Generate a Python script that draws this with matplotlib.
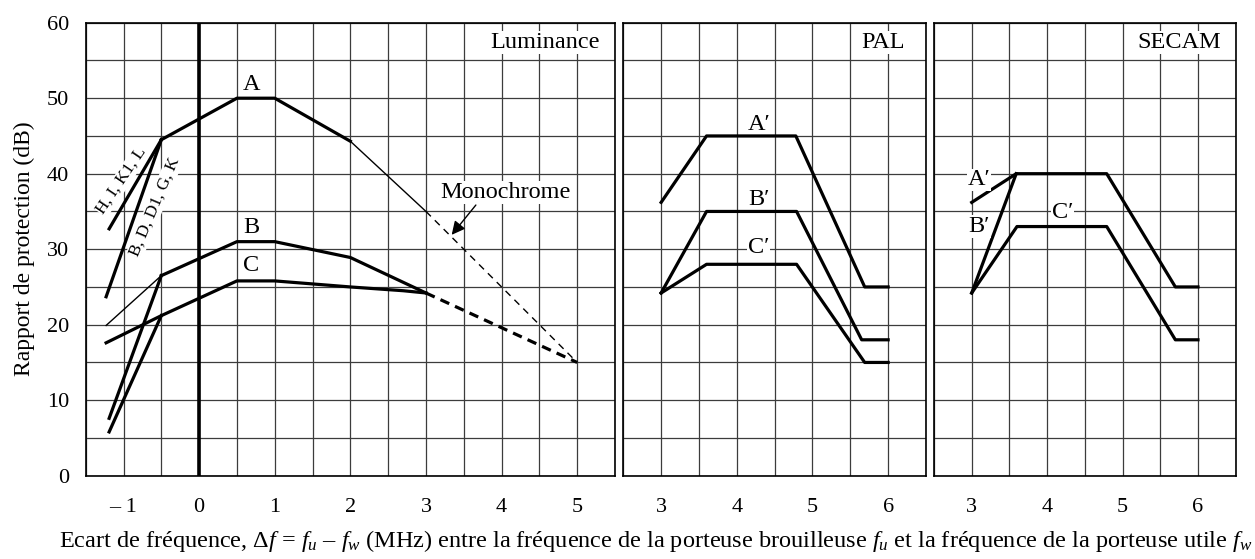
import numpy as np
import matplotlib
matplotlib.use("Agg")
from matplotlib import pyplot as plt

plt.rcParams['font.family'] = ['Liberation Serif', 'DejaVu Serif']
plt.rcParams['font.size'] = 16
plt.rcParams['mathtext.fontset'] = 'custom'
plt.rcParams['mathtext.rm'] = 'Liberation Serif'
plt.rcParams['mathtext.it'] = 'Liberation Serif:italic'

# ---- data (MHz, dB) ----
# luminance panel
a_x = [-0.5, 0.5, 1, 2]
a_y = [44.5, 50, 50, 44.3]
mono_x = [2, 3]
mono_y = [44.3, 35]
mono_dash_x = [3, 5]
mono_dash_y = [35, 15]
hikl_x = [-1.19, -0.5]
hikl_y = [32.7, 44.5]
bdg_x = [-1.23, -0.5]
bdg_y = [23.7, 44.5]
b_thin_x = [-1.23, -0.5]
b_thin_y = [19.9, 26.5]
b_x = [-0.5, 0.5, 1, 2, 3]
b_y = [26.5, 31, 31, 28.9, 24.2]
b_steep_x = [-1.19, -0.5]
b_steep_y = [7.6, 26.5]
c_x = [-1.23, -0.5, 0.5, 1, 2, 2.7, 3]
c_y = [17.6, 21.2, 25.8, 25.8, 25.0, 24.5, 24.2]
c_steep_x = [-1.19, -0.5]
c_steep_y = [5.8, 21.2]
bc_dash_x = [3, 5]
bc_dash_y = [24.2, 15]

# PAL panel
pal_a_x = [3, 3.6, 4.78, 5.69, 6]
pal_a_y = [36.2, 45, 45, 25, 25]
pal_b_x = [3, 3.6, 4.79, 5.65, 6]
pal_b_y = [24.2, 35, 35, 18, 18]
pal_c_x = [3, 3.6, 4.79, 5.69, 6]
pal_c_y = [24.2, 28, 28, 15, 15]

# SECAM panel
sec_a_x = [3, 3.59, 4.79, 5.7, 6]
sec_a_y = [36.2, 40, 40, 25, 25]
sec_b_x = [3, 3.59]
sec_b_y = [24.2, 40]
sec_c_x = [3, 3.6, 4.79, 5.7, 6]
sec_c_y = [24.2, 33, 33, 18, 18]

lum_ticks = [-1, 0, 1, 2, 3, 4, 5]
lum_ticklabels = ['\u2013 1', '0', '1', '2', '3', '4', '5']
col_ticks = [3, 4, 5, 6]
y_ticks = [0, 10, 20, 30, 40, 50, 60]

W, H = 1255, 559
fig = plt.figure(figsize=(W / 100, H / 100), dpi=100)

def px_axes(x0, x1, y0, y1):
    # pixel box -> figure fraction
    return fig.add_axes([x0 / W, (H - y1) / H, (x1 - x0) / W, (y1 - y0) / H])

ax1 = px_axes(85.7, 615, 22.7, 475.7)
ax2 = px_axes(623.3, 926, 22.7, 475.7)
ax3 = px_axes(934, 1235.7, 22.7, 475.7)

thick = 2.3
thin = 1.0
lab = 17.5
bbox = dict(facecolor='white', edgecolor='none', pad=0.5)

def setup(ax, xlim, ticks, labels, show_y):
    ax.set_xlim(*xlim)
    ax.set_ylim(0, 60)
    ax.set_xticks(ticks)
    ax.set_xticklabels(labels)
    ax.set_xticks(np.arange(xlim[0], xlim[1] + 0.01, 0.5), minor=True)
    ax.set_yticks(y_ticks)
    ax.set_yticks(np.arange(0, 61, 5), minor=True)
    if not show_y:
        ax.set_yticklabels([])
    ax.grid(True, which='both', color='#3c3c3c', lw=0.9)
    ax.set_axisbelow(True)
    ax.tick_params(which='both', length=0)
    ax.tick_params(axis='x', pad=16)
    ax.tick_params(axis='y', pad=12)
    for s in ax.spines.values():
        s.set_linewidth(1.2)

setup(ax1, (-1.5, 5.5), lum_ticks, lum_ticklabels, True)
setup(ax2, (2.5, 6.5), col_ticks, [str(t) for t in col_ticks], False)
setup(ax3, (2.5, 6.5), col_ticks, [str(t) for t in col_ticks], False)

# luminance
ax1.axvline(0, color='black', lw=2.6)
ax1.plot(a_x, a_y, color='black', lw=thick)
ax1.plot(mono_x, mono_y, color='black', lw=thin)
ax1.plot(mono_dash_x, mono_dash_y, color='black', lw=thin, ls=(0, (5, 4)))
ax1.plot(hikl_x, hikl_y, color='black', lw=thick)
ax1.plot(bdg_x, bdg_y, color='black', lw=thick)
ax1.plot(b_thin_x, b_thin_y, color='black', lw=thin)
ax1.plot(b_x, b_y, color='black', lw=thick)
ax1.plot(b_steep_x, b_steep_y, color='black', lw=thick)
ax1.plot(c_x, c_y, color='black', lw=thick)
ax1.plot(c_steep_x, c_steep_y, color='black', lw=thick)
ax1.plot(bc_dash_x, bc_dash_y, color='black', lw=thick, ls=(0, (3, 2)))

ax1.text(0.69, 51.8, 'A', ha='center', va='center', fontsize=lab)
ax1.text(0.69, 32.9, 'B', ha='center', va='center', fontsize=lab)
ax1.text(0.69, 27.9, 'C', ha='center', va='center', fontsize=lab, bbox=bbox)
ax1.text(5.3, 57.4, 'Luminance', ha='right', va='center', fontsize=lab, bbox=bbox)
ax1.text(-1.025, 39.1, 'H, I, K1, L', ha='center', va='center', fontsize=12.5,
         rotation=56, bbox=bbox)
ax1.text(-0.586, 35.6, 'B, D, D1, G, K', ha='center', va='center', fontsize=12.5,
         rotation=67, bbox=bbox)
ax1.text(4.045, 37.5, 'Monochrome', ha='center', va='center', fontsize=lab, bbox=bbox)
ax1.annotate('', xy=(3.34, 31.9), xytext=(3.66, 35.85),
             arrowprops=dict(arrowstyle='-|>', color='black', lw=1.0,
                             mutation_scale=20, shrinkA=0, shrinkB=0))

# PAL
for xs, ys in [(pal_a_x, pal_a_y), (pal_b_x, pal_b_y), (pal_c_x, pal_c_y)]:
    ax2.plot(xs, ys, color='black', lw=thick)
ax2.text(4.29, 46.5, 'A\u2032', ha='center', va='center', fontsize=lab)
ax2.text(4.29, 36.6, 'B\u2032', ha='center', va='center', fontsize=lab)
ax2.text(4.29, 30.2, 'C\u2032', ha='center', va='center', fontsize=lab, bbox=bbox)
ax2.text(6.22, 57.4, 'PAL', ha='right', va='center', fontsize=lab, bbox=bbox)

# SECAM
for xs, ys in [(sec_a_x, sec_a_y), (sec_b_x, sec_b_y), (sec_c_x, sec_c_y)]:
    ax3.plot(xs, ys, color='black', lw=thick)
ax3.text(3.1, 39.2, 'A\u2032', ha='center', va='center', fontsize=lab, bbox=bbox)
ax3.text(3.1, 33.0, 'B\u2032', ha='center', va='center', fontsize=lab, bbox=bbox)
ax3.text(4.2, 34.8, 'C\u2032', ha='center', va='center', fontsize=lab, bbox=bbox)
ax3.text(6.3, 57.4, 'SECAM', ha='right', va='center', fontsize=lab, bbox=bbox)

fig.text(24 / W, (H - 249) / H, 'Rapport de protection (dB)', rotation=90,
         ha='center', va='center', fontsize=17)
xlab = ('Ecart de fréquence, $\\Delta f$ = $f_u$ \u2013 $f_w$ (MHz) entre la fréquence '
        'de la porteuse brouilleuse $f_u$ et la fréquence de la porteuse utile $f_w$')
fig.text(656 / W, (H - 541) / H, xlab, ha='center', va='center', fontsize=17.5)

fig.savefig('out.png', dpi=100)
